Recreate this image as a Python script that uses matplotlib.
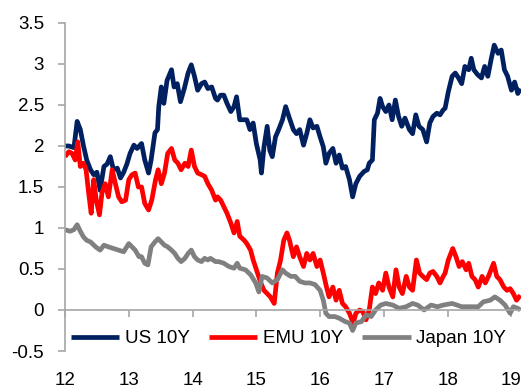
import matplotlib

matplotlib.use("Agg")

import matplotlib.pyplot as plt
from matplotlib.ticker import FuncFormatter

# 10Y government bond yields (%), x = year (12 = 2012)
us_t = [12.00, 12.06, 12.14, 12.19, 12.24, 12.29, 12.34, 12.40, 12.45, 12.50,
        12.55, 12.61, 12.66, 12.71, 12.76, 12.82, 12.87, 12.92, 12.97, 13.02,
        13.08, 13.13, 13.20, 13.25, 13.31, 13.35, 13.41, 13.45, 13.47, 13.51,
        13.55, 13.60, 13.67, 13.71, 13.76, 13.81, 13.87, 13.93, 13.98, 14.03,
        14.08, 14.14, 14.19, 14.24, 14.30, 14.36, 14.39, 14.44, 14.49, 14.54,
        14.60, 14.65, 14.69, 14.74, 14.79, 14.85, 14.90, 14.95, 15.00, 15.06,
        15.08, 15.12, 15.17, 15.21, 15.25, 15.30, 15.35, 15.41, 15.46, 15.51,
        15.58, 15.63, 15.68, 15.74, 15.79, 15.84, 15.89, 15.95, 16.00, 16.05,
        16.09, 16.14, 16.20, 16.25, 16.30, 16.35, 16.40, 16.46, 16.51, 16.56,
        16.62, 16.69, 16.74, 16.77, 16.82, 16.85, 16.90, 16.94, 16.98, 17.03,
        17.08, 17.13, 17.18, 17.23, 17.28, 17.33, 17.40, 17.45, 17.50, 17.55,
        17.61, 17.67, 17.72, 17.77, 17.83, 17.88, 17.93, 17.96, 18.01, 18.07,
        18.12, 18.17, 18.22, 18.27, 18.33, 18.37, 18.41, 18.47, 18.53, 18.58,
        18.63, 18.68, 18.73, 18.79, 18.84, 18.89, 18.94, 19.00, 19.05, 19.10,
        19.14]
us_y = [2.00, 2.00, 1.98, 2.30, 2.20, 2.00, 1.83, 1.71, 1.65, 1.68,
        1.46, 1.75, 1.78, 1.87, 1.71, 1.73, 1.61, 1.68, 1.78, 1.91,
        2.01, 1.97, 2.03, 1.83, 1.67, 1.83, 2.16, 2.20, 2.48, 2.72,
        2.52, 2.80, 2.93, 2.72, 2.76, 2.54, 2.70, 2.89, 2.99, 2.85,
        2.68, 2.76, 2.78, 2.70, 2.72, 2.58, 2.56, 2.62, 2.62, 2.52,
        2.42, 2.48, 2.60, 2.32, 2.32, 2.32, 2.20, 2.28, 2.03, 1.83,
        1.67, 1.99, 2.24, 1.95, 1.87, 2.11, 2.20, 2.32, 2.48, 2.36,
        2.20, 2.15, 2.20, 2.01, 2.15, 2.32, 2.22, 2.24, 2.11, 1.99,
        1.79, 1.91, 1.97, 1.79, 1.89, 1.73, 1.75, 1.59, 1.38, 1.54,
        1.63, 1.69, 1.71, 1.79, 1.83, 2.32, 2.40, 2.58, 2.48, 2.42,
        2.50, 2.32, 2.56, 2.36, 2.24, 2.34, 2.20, 2.15, 2.38, 2.24,
        2.20, 2.05, 2.28, 2.36, 2.40, 2.38, 2.44, 2.46, 2.66, 2.85,
        2.89, 2.83, 2.76, 2.97, 2.93, 3.07, 2.93, 2.87, 2.83, 2.97,
        2.85, 3.05, 3.23, 3.13, 3.17, 2.93, 2.85, 2.68, 2.78, 2.64,
        2.70]

emu_t = [12.00, 12.06, 12.11, 12.16, 12.20, 12.24, 12.29, 12.33, 12.37, 12.41,
         12.45, 12.49, 12.54, 12.58, 12.63, 12.68, 12.74, 12.79, 12.84, 12.89,
         12.95, 13.00, 13.05, 13.10, 13.15, 13.20, 13.25, 13.31, 13.36, 13.42,
         13.46, 13.51, 13.56, 13.61, 13.67, 13.72, 13.77, 13.82, 13.88, 13.93,
         13.98, 14.03, 14.08, 14.14, 14.19, 14.24, 14.30, 14.36, 14.39, 14.44,
         14.49, 14.54, 14.60, 14.65, 14.70, 14.74, 14.81, 14.85, 14.91, 14.95,
         15.01, 15.07, 15.12, 15.17, 15.22, 15.28, 15.33, 15.38, 15.43, 15.48,
         15.52, 15.58, 15.63, 15.68, 15.74, 15.79, 15.84, 15.89, 15.95, 16.00,
         16.05, 16.10, 16.14, 16.20, 16.25, 16.30, 16.35, 16.40, 16.46, 16.52,
         16.56, 16.62, 16.67, 16.72, 16.77, 16.82, 16.87, 16.92, 16.98, 17.03,
         17.08, 17.14, 17.19, 17.24, 17.29, 17.35, 17.40, 17.45, 17.51, 17.56,
         17.61, 17.67, 17.72, 17.77, 17.83, 17.88, 17.93, 17.96, 18.01, 18.08,
         18.13, 18.18, 18.23, 18.29, 18.33, 18.38, 18.43, 18.48, 18.54, 18.59,
         18.64, 18.72, 18.77, 18.82, 18.88, 18.93, 18.98, 19.03, 19.08, 19.14]
emu_y = [1.87, 1.93, 1.91, 1.83, 2.05, 1.75, 1.79, 1.71, 1.43, 1.18,
         1.59, 1.34, 1.16, 1.43, 1.54, 1.38, 1.71, 1.54, 1.38, 1.32,
         1.34, 1.59, 1.65, 1.67, 1.50, 1.50, 1.30, 1.22, 1.34, 1.59,
         1.71, 1.54, 1.67, 1.91, 1.97, 1.83, 1.79, 1.71, 1.79, 1.75,
         1.95, 1.75, 1.67, 1.65, 1.63, 1.54, 1.46, 1.34, 1.38, 1.34,
         1.26, 1.18, 1.06, 0.94, 1.08, 0.90, 0.85, 0.81, 0.73, 0.61,
         0.47, 0.33, 0.24, 0.20, 0.16, 0.08, 0.45, 0.61, 0.85, 0.94,
         0.85, 0.65, 0.77, 0.65, 0.53, 0.69, 0.61, 0.69, 0.53, 0.61,
         0.45, 0.28, 0.16, 0.28, 0.12, 0.24, 0.08, 0.04, -0.04, -0.16,
         -0.04, 0.00, -0.02, -0.12, 0.00, 0.28, 0.20, 0.33, 0.24, 0.45,
         0.28, 0.16, 0.49, 0.28, 0.20, 0.41, 0.28, 0.24, 0.61, 0.45,
         0.41, 0.37, 0.45, 0.47, 0.41, 0.33, 0.41, 0.45, 0.61, 0.75,
         0.65, 0.53, 0.59, 0.49, 0.57, 0.41, 0.37, 0.28, 0.41, 0.33,
         0.41, 0.57, 0.41, 0.37, 0.28, 0.24, 0.26, 0.20, 0.12, 0.18]

jp_t = [12.00, 12.08, 12.14, 12.19, 12.24, 12.29, 12.34, 12.40, 12.48, 12.55,
        12.61, 12.68, 12.76, 12.84, 12.92, 13.00, 13.05, 13.10, 13.16, 13.20,
        13.25, 13.30, 13.35, 13.41, 13.46, 13.51, 13.56, 13.61, 13.67, 13.72,
        13.77, 13.82, 13.88, 13.93, 13.98, 14.03, 14.08, 14.14, 14.19, 14.24,
        14.28, 14.36, 14.41, 14.49, 14.57, 14.65, 14.70, 14.74, 14.83, 14.91,
        14.99, 15.04, 15.09, 15.17, 15.25, 15.33, 15.41, 15.46, 15.54, 15.61,
        15.68, 15.76, 15.84, 15.92, 16.00, 16.05, 16.09, 16.14, 16.23, 16.30,
        16.39, 16.46, 16.51, 16.56, 16.65, 16.72, 16.80, 16.87, 16.95, 17.03,
        17.14, 17.24, 17.35, 17.45, 17.53, 17.63, 17.74, 17.84, 17.93, 18.07,
        18.22, 18.38, 18.48, 18.56, 18.67, 18.74, 18.82, 18.90, 18.98, 19.03,
        19.10, 19.14]
jp_y = [0.98, 0.96, 0.98, 1.04, 0.96, 0.89, 0.85, 0.83, 0.77, 0.73,
        0.79, 0.77, 0.75, 0.73, 0.71, 0.81, 0.77, 0.73, 0.65, 0.65,
        0.57, 0.55, 0.77, 0.83, 0.87, 0.83, 0.79, 0.77, 0.73, 0.69,
        0.63, 0.59, 0.63, 0.69, 0.73, 0.65, 0.61, 0.59, 0.63, 0.61,
        0.63, 0.59, 0.59, 0.57, 0.53, 0.51, 0.57, 0.51, 0.49, 0.43,
        0.33, 0.22, 0.41, 0.39, 0.33, 0.37, 0.49, 0.45, 0.41, 0.41,
        0.35, 0.33, 0.33, 0.31, 0.24, 0.12, -0.04, -0.08, -0.08, -0.10,
        -0.14, -0.16, -0.25, -0.16, -0.14, -0.06, -0.08, 0.00, 0.06, 0.08,
        0.06, 0.02, 0.04, 0.08, 0.06, 0.00, 0.06, 0.04, 0.06, 0.08,
        0.04, 0.04, 0.04, 0.10, 0.12, 0.16, 0.12, 0.06, -0.04, 0.04,
        0.02, 0.00]

years = [12, 13, 14, 15, 16, 17, 18, 19]
y_ticks = [-0.5, 0, 0.5, 1, 1.5, 2, 2.5, 3, 3.5]

plt.rcParams["font.family"] = ["Liberation Sans", "DejaVu Sans"]
axis_grey = "#a6a6a6"

fig = plt.figure(figsize=(5.21, 3.91), dpi=100)
ax = fig.add_axes([0.1248, 0.1023, 0.8752, 0.8389])

line_kw = dict(lw=3.4, solid_joinstyle="round", solid_capstyle="butt")
ax.plot(us_t, us_y, color="#002060", label="US 10Y", **line_kw)
ax.plot(emu_t, emu_y, color="#ff0000", label="EMU 10Y", **line_kw)
ax.plot(jp_t, jp_y, color="#808080", label="Japan 10Y", **line_kw)

ax.set_xlim(12, 19.15)
ax.set_ylim(-0.5, 3.5)
ax.set_xticks(years)
ax.set_yticks(y_ticks)
ax.yaxis.set_major_formatter(FuncFormatter(lambda v, _: f"{v:g}"))

for side in ["top", "right"]:
    ax.spines[side].set_visible(False)
ax.spines["bottom"].set_position(("data", 0))
for side in ["left", "bottom"]:
    ax.spines[side].set_color(axis_grey)
    ax.spines[side].set_linewidth(1.2)

ax.tick_params(axis="y", length=5, width=1.2, color=axis_grey, pad=10, labelsize=13.5)
ax.tick_params(axis="x", length=5, width=1.2, color=axis_grey, pad=40, labelsize=13.5)

ax.legend(loc="center", bbox_to_anchor=(0.49, 0.037), ncol=3, frameon=False,
          fontsize=13.5, handlelength=2.6, handletextpad=0.3, columnspacing=1.0,
          borderpad=0, borderaxespad=0)

fig.savefig("out.png", dpi=100)
